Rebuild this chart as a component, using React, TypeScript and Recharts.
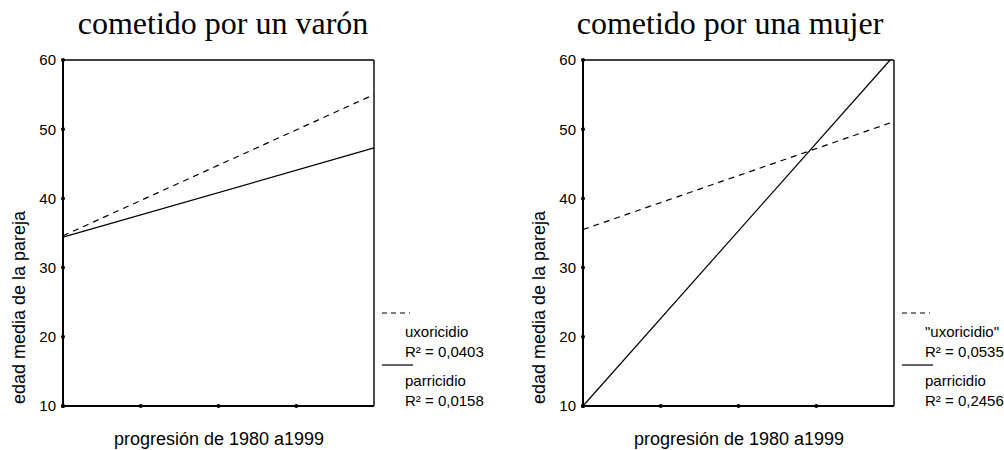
import { LineChart, Line, XAxis, YAxis, ReferenceLine } from "recharts";

// x runs over the 1980-1999 progression, drawn on a 0..4 scale
const xTicks = [0, 1, 2, 3];
const yTicks = [10, 20, 30, 40, 50, 60];

const varonUxoricidio = [
  { x: 0, y: 34.6 },
  { x: 4, y: 55.0 },
];
const varonParricidio = [
  { x: 0, y: 34.4 },
  { x: 4, y: 47.3 },
];
const mujerUxoricidio = [
  { x: 0, y: 35.5 },
  { x: 4, y: 51.1 },
];
const mujerParricidio = [
  { x: 0, y: 10 },
  { x: 3.95, y: 60 },
];

const titles = ["cometido por un varón", "cometido por una mujer"];
const legendLeft = ["uxoricidio", "R² = 0,0403", "parricidio", "R² = 0,0158"];
const legendRight = ['"uxoricidio"', "R² = 0,0535", "parricidio", "R² = 0,2456"];

const sans = "'Liberation Sans', Arial, sans-serif";
const serif = "'Liberation Serif', 'Times New Roman', serif";

const YTick = ({ x, y, payload }: any) => (
  <g>
    <circle cx={x} cy={y} r={2} fill="#000" />
    <text x={x - 7} y={y} dy="0.36em" textAnchor="end" fontSize={15} fontFamily={sans} fill="#000">
      {payload.value}
    </text>
  </g>
);

const XTick = ({ x, y }: any) => <circle cx={x} cy={y} r={2} fill="#000" />;

const Panel = ({ left, dashed, solid }: any) => (
  <div style={{ position: "absolute", left, top: 0 }}>
    <LineChart width={500} height={450} margin={{ top: 60, right: 126, bottom: 0, left: 0 }}>
      <XAxis
        dataKey="x"
        type="number"
        domain={[0, 4]}
        ticks={xTicks}
        height={44}
        tickSize={0}
        tickMargin={0}
        tickLine={false}
        tick={<XTick />}
        axisLine={{ stroke: "#000", strokeWidth: 2 }}
      />
      <YAxis
        type="number"
        domain={[10, 60]}
        ticks={yTicks}
        width={63}
        tickSize={0}
        tickMargin={0}
        tickLine={false}
        tick={<YTick />}
        axisLine={{ stroke: "#000", strokeWidth: 2 }}
      />
      <ReferenceLine y={60} stroke="#000" strokeWidth={1.4} />
      <ReferenceLine x={4} stroke="#000" strokeWidth={1.4} />
      <Line data={dashed} dataKey="y" type="linear" stroke="#000" strokeWidth={1.2} strokeDasharray="6 5" dot={false} isAnimationActive={false} />
      <Line data={solid} dataKey="y" type="linear" stroke="#000" strokeWidth={1.2} dot={false} isAnimationActive={false} />
    </LineChart>
  </div>
);

const Labels = ({ dx, title, titleX, legend }: any) => (
  <g>
    <text x={titleX} y={34} textAnchor="middle" fontSize={32} fontFamily={serif} fill="#000">
      {title}
    </text>
    <text
      x={dx + 19}
      y={307.5}
      transform={`rotate(-90 ${dx + 19} 307.5)`}
      textAnchor="middle"
      dominantBaseline="central"
      fontSize={18}
      fontFamily={sans}
      fill="#000"
    >
      edad media de la pareja
    </text>
    <text x={dx + 219} y={445} textAnchor="middle" fontSize={18} fontFamily={sans} fill="#000">
      progresión de 1980 a1999
    </text>
    <line x1={dx + 382} y1={313} x2={dx + 410} y2={313} stroke="#000" strokeWidth={1.2} strokeDasharray="5 4" />
    <line x1={dx + 382} y1={365} x2={dx + 413} y2={365} stroke="#000" strokeWidth={1.2} />
    <g fontSize={15} fontFamily={sans} fill="#000">
      <text x={dx + 405} y={336.5}>{legend[0]}</text>
      <text x={dx + 405} y={357}>{legend[1]}</text>
      <text x={dx + 405} y={386}>{legend[2]}</text>
      <text x={dx + 405} y={406}>{legend[3]}</text>
    </g>
  </g>
);

export default function App() {
  return (
    <div style={{ position: "absolute", left: 0, top: 0, width: 1004, height: 450, background: "#fff" }}>
      <Panel left={0} dashed={varonUxoricidio} solid={varonParricidio} />
      <Panel left={520} dashed={mujerUxoricidio} solid={mujerParricidio} />
      <svg width={1004} height={450} style={{ position: "absolute", left: 0, top: 0, pointerEvents: "none" }}>
        <Labels dx={0} title={titles[0]} titleX={223} legend={legendLeft} />
        <Labels dx={520} title={titles[1]} titleX={730} legend={legendRight} />
      </svg>
    </div>
  );
}
